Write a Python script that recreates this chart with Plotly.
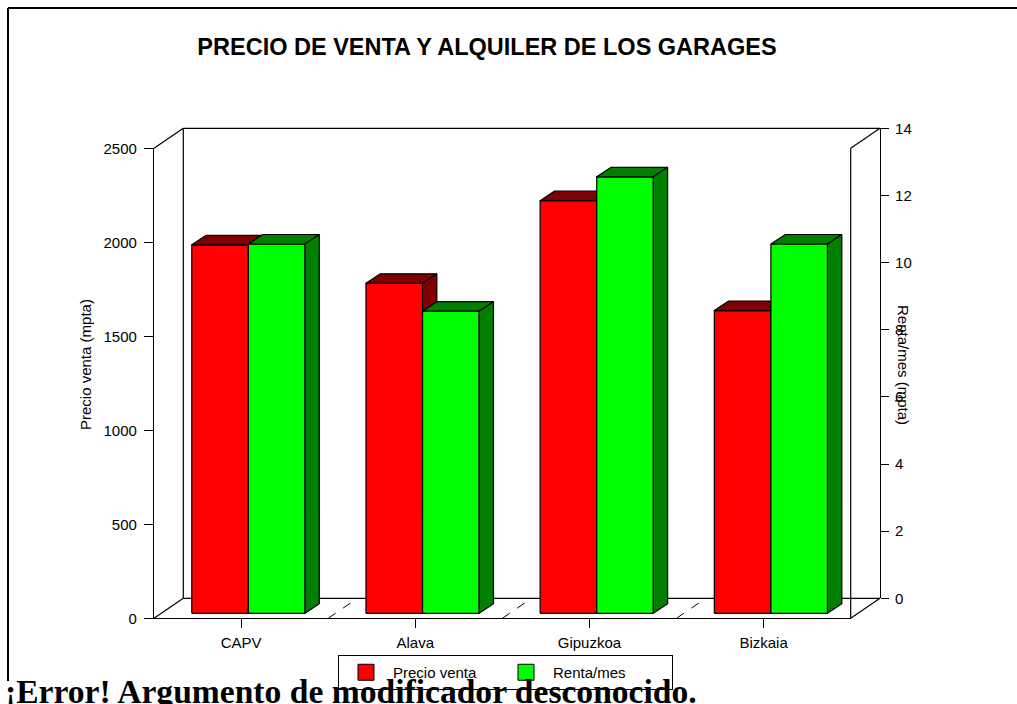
import plotly.graph_objects as go

# ---- data -------------------------------------------------------------
categories = ["CAPV", "Alava", "Gipuzkoa", "Bizkaia"]
precio_venta = [1960, 1755, 2195, 1610]      # mpta
renta_mes = [11, 9, 13, 11]                  # mpta / mes
precio_ticks = [0, 500, 1000, 1500, 2000, 2500]
renta_ticks = [0, 2, 4, 6, 8, 10, 12, 14]

# ---- page geometry (pixels) ------------------------------------------
W, H = 1017, 704
FX0, FX1 = 154.0, 850.7        # front plane, left / right edge
FY0, FY1 = 618.3, 148.3        # front plane, value 0 / top value
DX, DY = 29.3, -20.0           # box depth (front -> back)
BAR_OFF = (7.3, -5.0)          # bar front face offset into the box
BAR_DEPTH = (14.3, -9.5)       # bar thickness in depth
BAR_W = 0.325                  # width of one bar, category units
PAD = 6.0                      # extra room below the bar baseline
P_MAX, R_MAX = 2500, 14

RED, DARK_RED = "#FF0000", "#7F0000"
GREEN, DARK_GREEN = "#00FF00", "#007F00"
FONT = "Liberation Sans"


def px(x):
    return x / W


def py(y):
    return 1 - y / H


n = len(categories)
cat_px = (FX1 - FX0) / n                       # pixels per category
p_px = (FY0 - FY1) / P_MAX                     # pixels per mpta
r_px = (FY0 - FY1) / R_MAX                     # pixels per renta unit

# bar depth converted into axis units
dx_u = BAR_DEPTH[0] / cat_px
dy_p = -BAR_DEPTH[1] / p_px
dy_r = -BAR_DEPTH[1] / r_px

fig = go.Figure()


def add_bar(v, x0, x1, dy, face, shade, yaxis):
    common = dict(xaxis="x2", yaxis=yaxis, mode="lines", fill="toself",
                  line=dict(color="black", width=1.2), showlegend=False,
                  hoverinfo="skip")
    # front face
    fig.add_trace(go.Scatter(x=[x0, x1, x1, x0, x0], y=[0, 0, v, v, 0],
                             fillcolor=face, **common))
    # top face
    fig.add_trace(go.Scatter(x=[x0, x1, x1 + dx_u, x0 + dx_u, x0],
                             y=[v, v, v + dy, v + dy, v],
                             fillcolor=shade, **common))
    # right side face
    fig.add_trace(go.Scatter(x=[x1, x1 + dx_u, x1 + dx_u, x1, x1],
                             y=[0, dy, v + dy, v, 0],
                             fillcolor=shade, **common))


for i, v in enumerate(precio_venta):
    add_bar(v, i - BAR_W, i, dy_p, RED, DARK_RED, "y2")
for i, v in enumerate(renta_mes):
    add_bar(v, i, i + BAR_W, dy_r, GREEN, DARK_GREEN, "y3")

# legend entries
fig.add_trace(go.Scatter(x=[None], y=[None], mode="markers", name="Precio venta",
                         legendwidth=101,
                         marker=dict(symbol="square", size=16, color=RED,
                                     line=dict(color="black", width=1))))
fig.add_trace(go.Scatter(x=[None], y=[None], mode="markers", name="Renta/mes",
                         legendwidth=114,
                         marker=dict(symbol="square", size=16, color=GREEN,
                                     line=dict(color="black", width=1))))
# carrier for the right-hand axis on the back plane
fig.add_trace(go.Scatter(x=[None], y=[None], yaxis="y4", showlegend=False,
                         hoverinfo="skip"))

tickfont = dict(family=FONT, size=15, color="black")

# ---- frame of the 3-D box -------------------------------------------
BX0, BX1 = FX0 + DX, FX1 + DX
BY0, BY1 = FY0 + DY, FY1 + DY
lines = [
    (BX0, BY1, BX1, BY1),      # back top
    (BX0, BY1, BX0, BY0),      # back left
    (BX0, BY0, BX1, BY0),      # back floor
    (FX0, FY1, BX0, BY1),      # left top diagonal
    (FX0, FY0, BX0, BY0),      # left floor diagonal
    (FX1, FY1, FX1, FY0),      # front right edge
    (FX1, FY1, BX1, BY1),      # right top diagonal
    (FX1, FY0, BX1, BY0),      # right floor diagonal
]
shapes = [dict(type="line", xref="paper", yref="paper", layer="below",
               x0=px(a), y0=py(b), x1=px(c), y1=py(d),
               line=dict(color="black", width=1.2)) for a, b, c, d in lines]
for k in range(1, n):
    xf = FX0 + k * cat_px
    shapes.append(dict(type="line", xref="paper", yref="paper", layer="below",
                       x0=px(xf), y0=py(FY0), x1=px(xf + DX), y1=py(FY0 + DY),
                       line=dict(color="black", width=1, dash="dash")))
# page border
shapes.append(dict(type="line", xref="paper", yref="paper", x0=px(8), y0=py(8),
                   x1=px(W + 5), y1=py(8), line=dict(color="black", width=2)))
shapes.append(dict(type="line", xref="paper", yref="paper", x0=px(8), y0=py(8),
                   x1=px(8), y1=py(681), line=dict(color="black", width=2)))

pad_p = PAD / p_px
pad_r = PAD / r_px

fig.update_layout(
    width=W, height=H,
    margin=dict(l=0, r=0, t=0, b=0, autoexpand=False),
    paper_bgcolor="white", plot_bgcolor="rgba(0,0,0,0)",
    font=dict(family=FONT, size=15, color="black"),
    title=dict(text="PRECIO DE VENTA Y ALQUILER DE LOS GARAGES",
               font=dict(family=FONT, size=23.5, weight="bold", color="black"),
               x=px(487), xanchor="center", y=py(47), yanchor="middle",
               automargin=False),
    # front plane: category axis and price axis
    xaxis=dict(domain=[px(FX0), px(FX1)], range=[-0.5, n - 0.5],
               tickvals=list(range(n)), ticktext=categories,
               showline=True, linecolor="black", linewidth=1.2,
               ticks="outside", ticklen=9, tickcolor="black",
               showgrid=False, zeroline=False, tickfont=tickfont,
               ticklabelstandoff=2, anchor="y", automargin=False),
    yaxis=dict(domain=[py(FY0), py(FY1)], range=[0, P_MAX],
               tickvals=precio_ticks, showline=True, linecolor="black",
               linewidth=1.2, ticks="outside", ticklen=9, tickcolor="black",
               showgrid=False, zeroline=False, tickfont=tickfont,
               ticklabelstandoff=4, anchor="x", automargin=False),
    # bar plane (inside the box)
    xaxis2=dict(domain=[px(FX0 + BAR_OFF[0]), px(FX1 + BAR_OFF[0])],
                range=[-0.5, n - 0.5], visible=False, anchor="y2",
                automargin=False),
    yaxis2=dict(domain=[py(FY0 + BAR_OFF[1] + PAD), py(FY1 + BAR_OFF[1])],
                range=[-pad_p, P_MAX], visible=False, anchor="x2",
                automargin=False),
    yaxis3=dict(range=[-pad_r, R_MAX], overlaying="y2", visible=False,
                anchor="x2", automargin=False),
    # back plane: renta axis on the right
    yaxis4=dict(domain=[py(BY0), py(BY1)], range=[0, R_MAX],
                tickvals=renta_ticks, anchor="free", position=px(BX1),
                side="right", showline=True, linecolor="black", linewidth=1.2,
                ticks="outside", ticklen=8, tickcolor="black",
                showgrid=False, zeroline=False, tickfont=tickfont,
                ticklabelstandoff=3, automargin=False),
    legend=dict(orientation="h", x=px(338), y=py(655), xanchor="left",
                yanchor="top", bordercolor="black", borderwidth=1,
                bgcolor="white", font=dict(family=FONT, size=15),
                itemwidth=44, entrywidthmode="pixels",
                itemclick=False, itemdoubleclick=False),
    shapes=shapes,
    annotations=[
        dict(text="Precio venta (mpta)", xref="paper", yref="paper",
             x=px(85), y=py(365), xanchor="center", yanchor="middle",
             textangle=-90, showarrow=False, font=dict(family=FONT, size=15)),
        dict(text="Renta/mes (mpta)", xref="paper", yref="paper",
             x=px(904), y=py(365), xanchor="center", yanchor="middle",
             textangle=90, showarrow=False, font=dict(family=FONT, size=15)),
        dict(text="¡Error! Argumento de modificador desconocido.",
             xref="paper", yref="paper", x=px(3), y=py(671),
             xanchor="left", yanchor="top", showarrow=False,
             font=dict(family="Liberation Serif", size=33.6, weight="bold",
                       color="black")),
    ],
)

fig.write_html("out.html")
